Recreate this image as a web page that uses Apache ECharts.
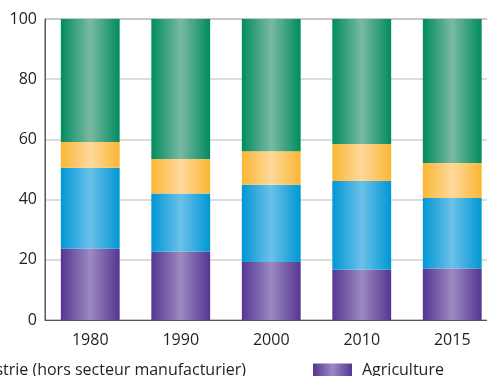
<!DOCTYPE html>
<html>
<head>
<meta charset="utf-8">
<script src="https://cdn.jsdelivr.net/npm/echarts@6/dist/echarts.min.js"></script>
<style>
  html, body { margin: 0; padding: 0; background: #fff; }
  #chart { width: 487px; height: 376px; }
</style>
</head>
<body>
<div id="chart"></div>
<script>
// Sector shares of output, in percent (stacked to 100)
const years = ['1980', '1990', '2000', '2010', '2015'];
const agriculture = [23.7, 22.7, 19.3, 16.7, 17.1];
const industryExclManufacturing = [26.9, 19.3, 25.6, 29.5, 23.4];
const manufacturing = [8.5, 11.5, 11.2, 12.3, 11.7];
const services = [40.9, 46.5, 43.9, 41.5, 47.8];
const yTicks = [0, 20, 40, 60, 80, 100];

const FONT = '"Open Sans", Lato, sans-serif';
const TEXT = '#231f20';

// Horizontal shading: dark edges, lighter centre
function shade(edge, mid) {
  return new echarts.graphic.LinearGradient(0, 0, 1, 0, [
    { offset: 0, color: edge },
    { offset: 0.5, color: mid },
    { offset: 1, color: edge }
  ]);
}

const names = {
  agri: 'Agriculture',
  ind: 'Industrie (hors secteur manufacturier)',
  manu: 'Industrie manufacturière',
  serv: 'Services'
};

function barSeries(name, data, edge, mid) {
  return {
    name: name,
    type: 'bar',
    stack: 'total',
    data: data,
    barCategoryGap: '35%',
    itemStyle: { color: shade(edge, mid) },
    emphasis: { disabled: true }
  };
}

const legendText = { fontFamily: FONT, fontSize: 16, color: TEXT, padding: [0, 0, 0, 5] };

const chart = echarts.init(document.getElementById('chart'), null, { renderer: 'canvas' });
chart.setOption({
  animation: false,
  backgroundColor: '#fff',
  textStyle: { fontFamily: FONT },
  grid: {
    left: 45, top: 19, width: 452.5, height: 301,
    outerBoundsMode: 'none',
    containLabel: false,
    show: true, borderColor: '#555', borderWidth: 1, backgroundColor: 'transparent'
  },
  legend: [
    {
      data: [names.ind], right: 241, top: 362, padding: 0,
      itemWidth: 39, itemHeight: 13, icon: 'rect',
      textStyle: legendText
    },
    {
      data: [names.agri], left: 313, top: 362, padding: 0,
      itemWidth: 39, itemHeight: 13, icon: 'rect',
      textStyle: legendText
    }
  ],
  xAxis: {
    type: 'category',
    data: years,
    axisLine: { lineStyle: { color: '#555', width: 1 } },
    axisTick: { show: false },
    axisLabel: { fontFamily: FONT, fontSize: 16, color: TEXT, margin: 12 }
  },
  yAxis: {
    type: 'value',
    min: yTicks[0],
    max: yTicks[yTicks.length - 1],
    interval: 20,
    axisLine: { show: true, lineStyle: { color: '#555', width: 1 } },
    axisTick: { show: false },
    splitLine: { lineStyle: { color: '#d0d0d0', width: 1.5 } },
    axisLabel: { fontFamily: FONT, fontSize: 16, color: TEXT, margin: 8 }
  },
  series: [
    barSeries(names.agri, agriculture, '#553591', '#9b8ac2'),
    barSeries(names.ind, industryExclManufacturing, '#0097d5', '#6cc0e8'),
    barSeries(names.manu, manufacturing, '#fbb634', '#fdd99b'),
    barSeries(names.serv, services, '#008c60', '#7ab9a2')
  ]
});
</script>
</body>
</html>
